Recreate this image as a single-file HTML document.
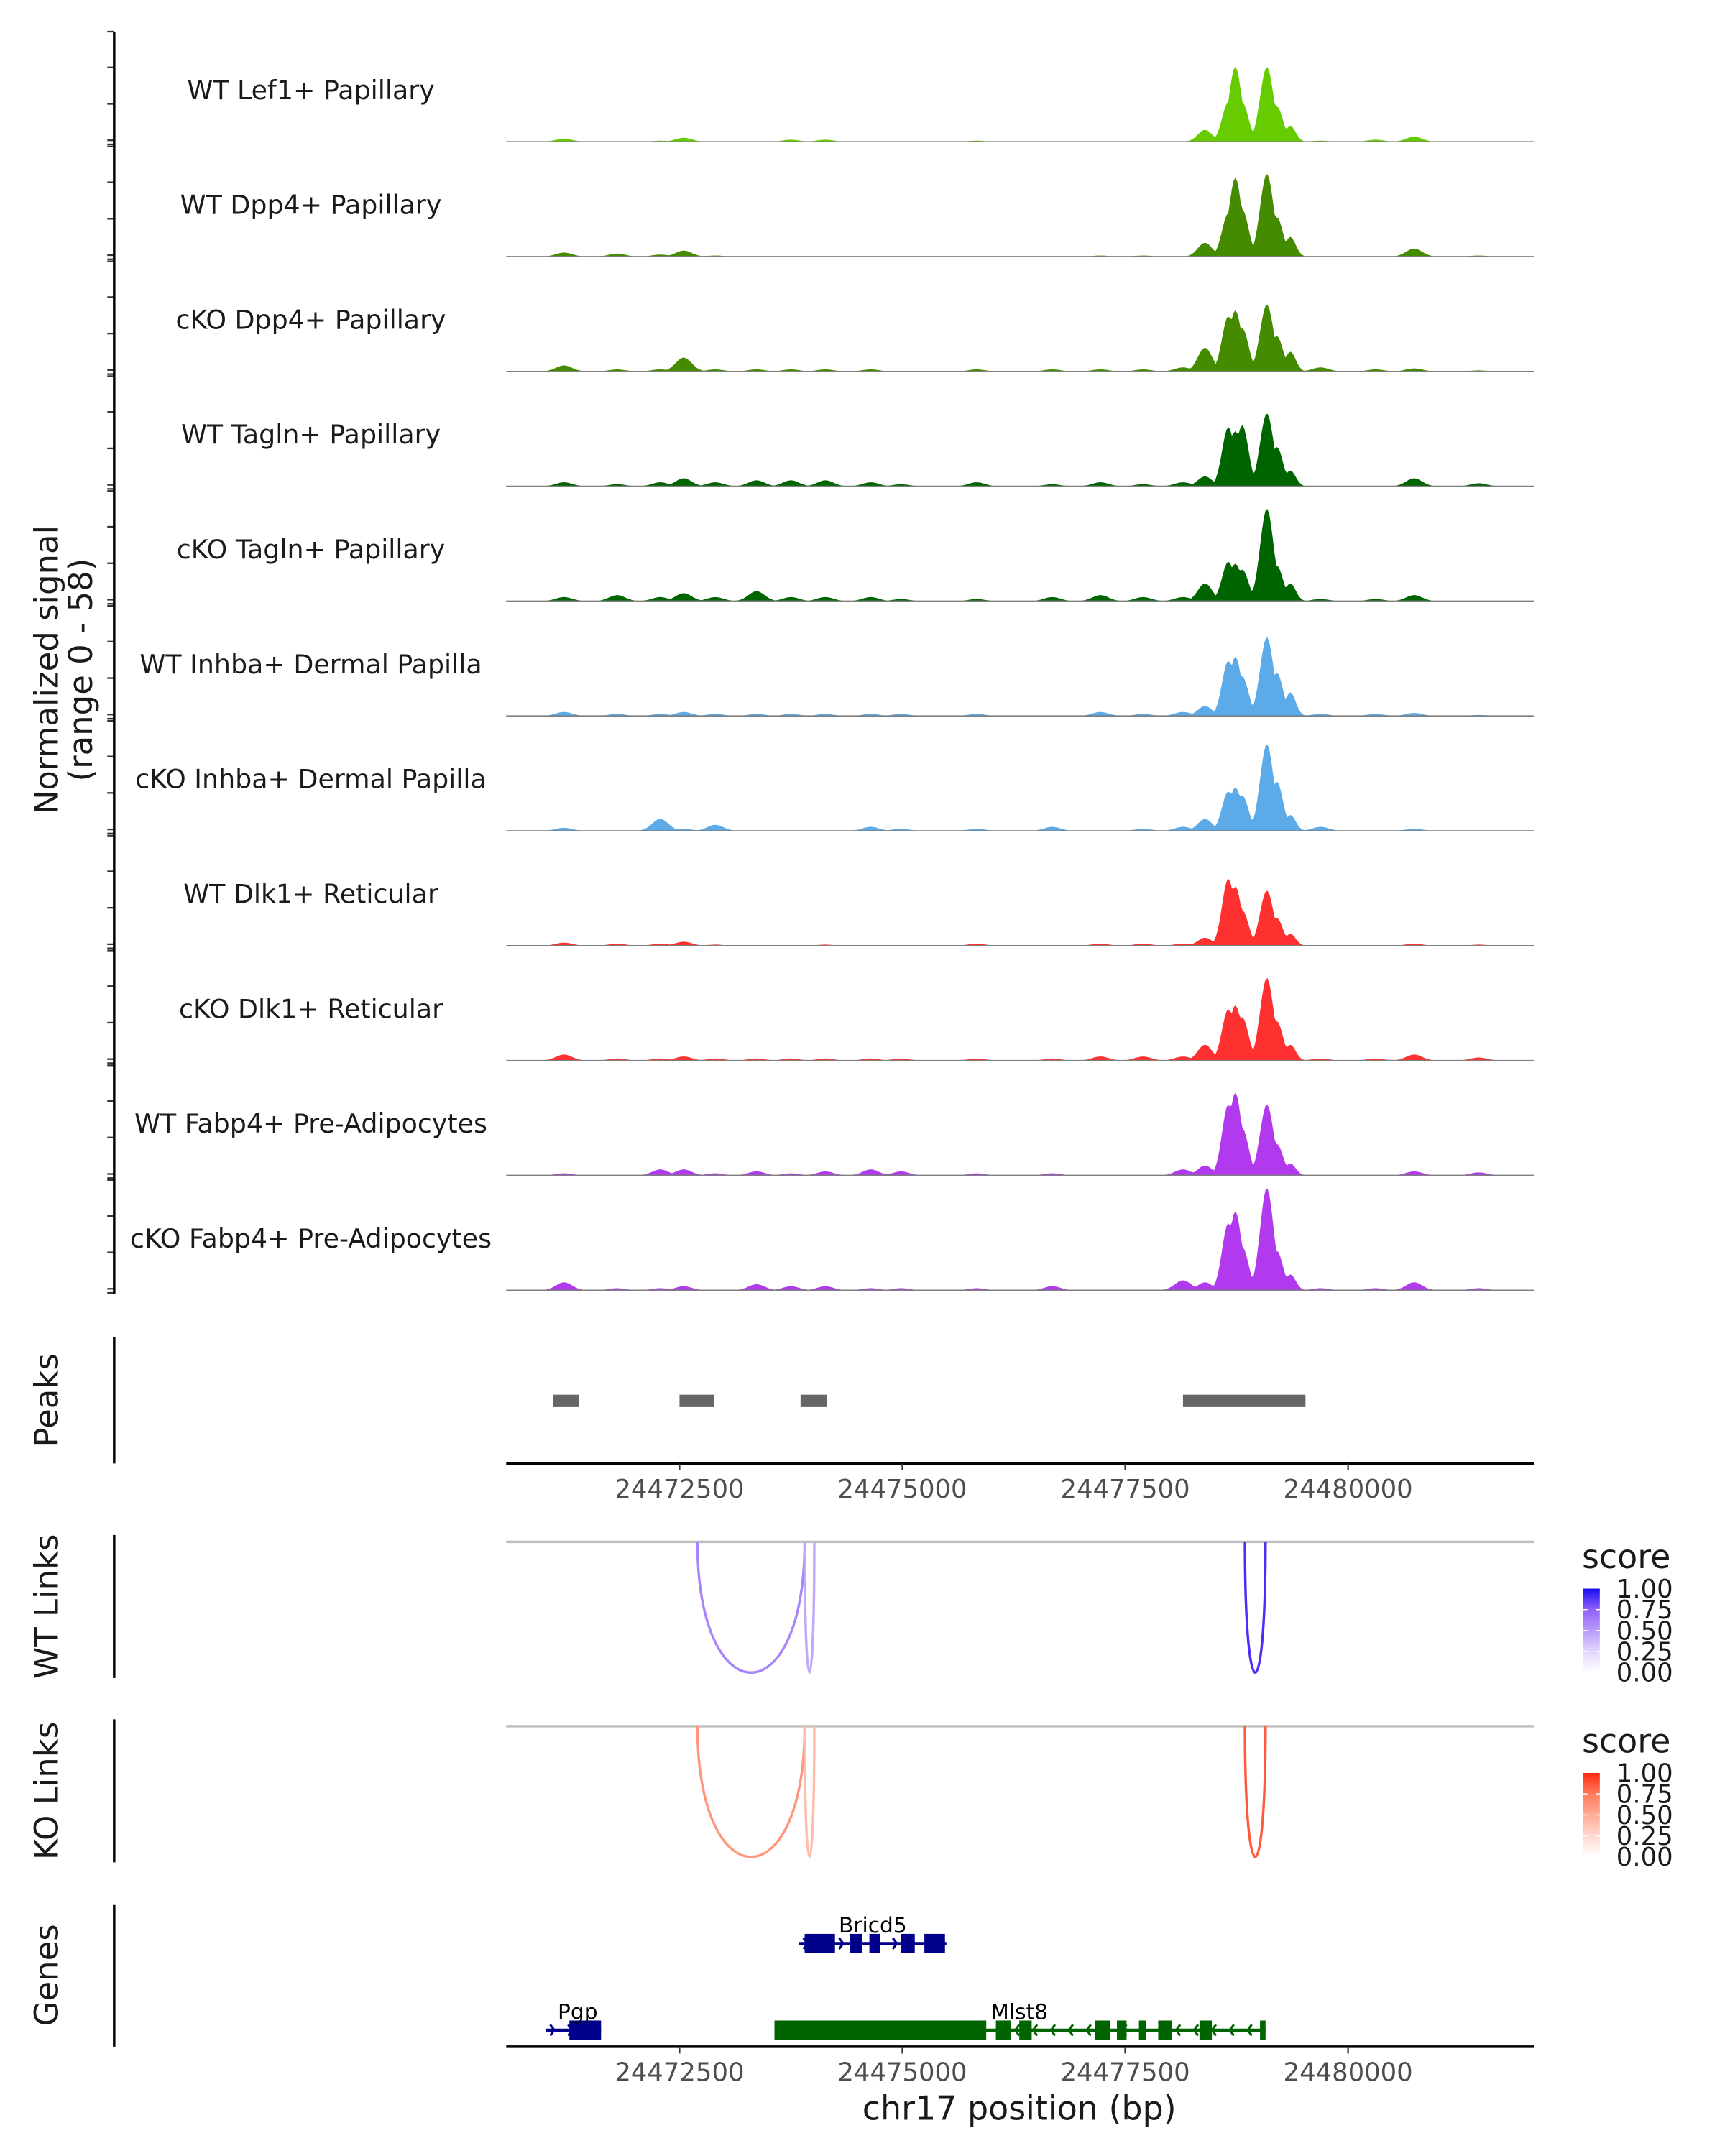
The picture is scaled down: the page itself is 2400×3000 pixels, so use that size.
<!DOCTYPE html>
<html><head><meta charset="utf-8">
<style>
html,body{margin:0;padding:0;background:#fff;}
svg{display:block;font-family:"DejaVu Sans","Liberation Sans",sans-serif;}
</style></head>
<body>
<svg id="chart" xmlns="http://www.w3.org/2000/svg" width="2400" height="3000" viewBox="0 0 1254 1567.5">
<rect x="0" y="0" width="1254" height="1567.5" fill="#fff"/>
<g id="tracks"></g>
<g id="leftaxes"></g>
<g id="peaks"></g>
<g id="links"></g>
<g id="genes"></g>
<g id="xaxes"></g>
<defs>
<linearGradient id="gBlue" x1="0" y1="1" x2="0" y2="0"><stop offset="0" stop-color="#ffffff"/><stop offset="0.25" stop-color="#e2d6fd"/><stop offset="0.5" stop-color="#b99cfb"/><stop offset="0.75" stop-color="#8f63f8"/><stop offset="1" stop-color="#1a0af5"/></linearGradient>
<linearGradient id="gRed" x1="0" y1="1" x2="0" y2="0"><stop offset="0" stop-color="#ffffff"/><stop offset="0.25" stop-color="#ffd9cf"/><stop offset="0.5" stop-color="#ffab95"/><stop offset="0.75" stop-color="#ff7a5c"/><stop offset="1" stop-color="#ff2a10"/></linearGradient>
</defs>
<text x="42" y="487" transform="rotate(-90 42 487)" text-anchor="middle" font-size="23.5" fill="#1a1a1a">Normalized signal</text>
<text x="67" y="487" transform="rotate(-90 67 487)" text-anchor="middle" font-size="23.5" fill="#1a1a1a">(range 0 - 58)</text>
<text x="741" y="1541" text-anchor="middle" font-size="24" fill="#1a1a1a">chr17 position (bp)</text>
</svg>
<script>
const trackNames = ["WT Lef1+ Papillary","WT Dpp4+ Papillary","cKO Dpp4+ Papillary","WT Tagln+ Papillary","cKO Tagln+ Papillary","WT Inhba+ Dermal Papilla","cKO Inhba+ Dermal Papilla","WT Dlk1+ Reticular","cKO Dlk1+ Reticular","WT Fabp4+ Pre-Adipocytes","cKO Fabp4+ Pre-Adipocytes"];
const trackColors = ["#66cc00","#458b00","#458b00","#006400","#006400","#5caae8","#5caae8","#ff3030","#ff3030","#b23aee","#b23aee"];
const signalCenters = [24471204,24471800,24472284,24472546,24472901,24473364,24473750,24474136,24474645,24474985,24475833,24476682,24477222,24477700,24478148,24478395,24478657,24478735,24478812,24479089,24479200,24479352,24479691,24480309,24480741,24481466];
const signalWidths = [90,90,90,90,90,90,90,90,90,90,90,90,90,90,90,80,70,70,70,75,70,60,90,90,90,90];
const lef1WT = [1.5,0,0.5,2,0,0,1,1,0,0,0.5,0,0,0,0,6,20,38,20,38,18,8,0.5,1,2.5,0];
const dpp4WT = [2,1.5,1,3,0.5,0,0,0,0,0,0,0,0.5,0.5,0,7,22,40,24,42,20,10,0,0,4,0.5];
const dpp4KO = [3,1,1,7,1,1,1,1,1,0,1,1,1,1,2,12,28,31,22,34,18,10,2,1,1.5,0.5];
const taglnWT = [2,1,2,4,2,3,3,3,2,1,2,1,2,1,2,5,30,28,31,37,20,8,0,0,4,1.5];
const taglnKO = [2,3,2,4,2,5,2,2,2,1,1,2,3,2,2,9,20,19,16,47,18,9,1,1,3,0];
const inhbaWT = [2,1,1,2,1,1,1,1,1,1,1,0,2,1,2,5,28,30,20,40,22,12,1,1,1.5,0.5];
const inhbaKO = [1.5,0,6,1,3,0,0,0,2,1,1,2,0,1,2,6,20,22,18,44,25,8,2,0,1,0];
const dlk1WT = [1.5,1,1,2,0.5,0,0,0.5,0,0,1,0,1,1,1,4,34,30,18,28,14,6,0,0,1,0.5];
const dlk1KO = [3,1,1,2,1,1,1,1,1,1,1,1,2,2,2,8,26,28,22,42,20,8,1,1,3,1.5];
const fabp4WT = [1,0,3,3,1,2,1,2,3,2,1,1,0,0,3,5,36,42,24,36,16,6,0,0,2,1.5];
const fabp4KO = [4,1,1,2,0,3,2,2,1,1,1,2,0,0,5,4,34,40,22,52,20,8,1,1,4,1];
const trackValues = [lef1WT,dpp4WT,dpp4KO,taglnWT,taglnKO,inhbaWT,inhbaKO,dlk1WT,dlk1KO,fabp4WT,fabp4KO];
const xTicks = [24472500,24475000,24477500,24480000];
const xTickLabels = ["24472500","24475000","24477500","24480000"];
const peakStarts = [24471080,24472500,24473858,24478148];
const peakEnds = [24471374,24472886,24474151,24479522];
const linkStarts = [24472701,24473904,24478843];
const linkEnds = [24473904,24474012,24479074];
const wtLinkScores = [0.6,0.45,0.9];
const koLinkScores = [0.6,0.4,0.85];
const legendTicks = [0,0.25,0.5,0.75,1];
const legendTickLabels = ["0.00","0.25","0.50","0.75","1.00"];
const geneNames = ["Bricd5","Pgp","Mlst8"];
const geneStarts = [24473843,24471003,24473565];
const geneEnds = [24475494,24471620,24479074];
const geneStrands = [1,1,-1];
const bricd5ExonStarts = [24473904,24474414,24474630,24474985,24475247];
const bricd5ExonEnds = [24474244,24474552,24474753,24475139,24475478];
const pgpExonStarts = [24471265];
const pgpExonEnds = [24471620];
const mlst8ExonStarts = [24473565,24476049,24476312,24477160,24477407,24477654,24477870,24478333,24479012];
const mlst8ExonEnds = [24475941,24476219,24476451,24477330,24477515,24477731,24478025,24478472,24479074];
const geneExonStarts = [bricd5ExonStarts,pgpExonStarts,mlst8ExonStarts];
const geneExonEnds = [bricd5ExonEnds,pgpExonEnds,mlst8ExonEnds];

const NS="http://www.w3.org/2000/svg";
const X0=368, X1=1115, BP0=24470556, BP1=24482083;
function xs(bp){return X0+(bp-BP0)*(X1-X0)/(BP1-BP0);}
const RANGE=58, TRACKH=83;
function ys(base,v){return base - v*TRACKH/RANGE;}
function mk(tag,attrs,parent){const e=document.createElementNS(NS,tag);for(const k in attrs)e.setAttribute(k,attrs[k]);parent.appendChild(e);return e;}

const tracksG=document.getElementById('tracks');
const leftG=document.getElementById('leftaxes');
const baselines=[];
for(let i=0;i<11;i++) baselines.push(103+i*83.5);

trackValues.forEach(function(vals,i){
  const base=baselines[i];
  let d="M"+X0+","+base;
  for(let bp=BP0;bp<=BP1;bp+=20){
    let v=0;
    for(let j=0;j<signalCenters.length;j++){
      const z=(bp-signalCenters[j])/signalWidths[j];
      const g=vals[j]*Math.exp(-0.5*z*z);
      if(g>v)v=g;
    }
    if(v<0.15)v=0;
    d+=" L"+xs(bp).toFixed(2)+","+ys(base,v).toFixed(2);
  }
  d+=" L"+X1+","+base+" Z";
  const area=mk('path',{d:d,fill:trackColors[i]},tracksG);
  
  
  const bl=mk('line',{x1:X0,x2:X1,y1:base,y2:base,stroke:'#7f7f7f','stroke-width':0.8},tracksG);
  
  
  const lab=mk('text',{x:226,y:base-31,'text-anchor':'middle','font-size':19,fill:'#1a1a1a'},tracksG);
  lab.textContent=trackNames[i];
  
  
  [2,-1,-27.5,-54,-80].forEach(function(off){
    const t=mk('line',{x1:78,x2:83,y1:base+off,y2:base+off,stroke:'#333','stroke-width':1.2},leftG);
    
    
  });
});
function vline(y1,y2,name){const l=mk('line',{x1:83,x2:83,y1:y1,y2:y2,stroke:'#000','stroke-width':1.8},leftG);}
vline(23,941,'signal-y-axis');
vline(972,1064,'peaks-y-axis');
vline(1116,1220,'wt-links-y-axis');
vline(1250,1354,'ko-links-y-axis');
vline(1385,1488,'genes-y-axis');
function sideLabel(txt,y,name){const t=mk('text',{x:42,y:y,transform:'rotate(-90 42 '+y+')','text-anchor':'middle','font-size':23.5,fill:'#1a1a1a'},leftG);t.textContent=txt;}
sideLabel('Peaks',1018,'peaks-label');
sideLabel('WT Links',1168,'wt-links-label');
sideLabel('KO Links',1302,'ko-links-label');
sideLabel('Genes',1436,'genes-label');

const peaksG=document.getElementById('peaks');
peakStarts.forEach(function(s,i){
  const r=mk('rect',{x:xs(s),y:1014,width:xs(peakEnds[i])-xs(s),height:9,fill:'#666666'},peaksG);
  
  
});

const xG=document.getElementById('xaxes');
function xaxis(y,name){
  const l=mk('line',{x1:X0,x2:X1,y1:y,y2:y,stroke:'#000','stroke-width':1.8},xG);
  
  
  xTicks.forEach(function(t,i){
    const tk=mk('line',{x1:xs(t),x2:xs(t),y1:y,y2:y+5,stroke:'#333','stroke-width':1.2},xG);
    
    
    const tl=mk('text',{x:xs(t),y:y+25,'text-anchor':'middle','font-size':18.5,fill:'#4d4d4d'},xG);
    tl.textContent=xTickLabels[i];
    
    
  });
}
xaxis(1064,'peaks-x-axis');
xaxis(1488,'genes-x-axis');

const linksG=document.getElementById('links');
const blueStops=[[255,255,255],[226,214,253],[185,156,251],[143,99,248],[26,10,245]];
const redStops=[[255,255,255],[255,217,207],[255,171,149],[255,122,92],[255,42,16]];
function scaleColor(stops,s){
  const p=Math.max(0,Math.min(1,s))*4, k=Math.min(3,Math.floor(p)), f=p-k;
  const a=stops[k], b=stops[k+1];
  return 'rgb('+Math.round(a[0]+(b[0]-a[0])*f)+','+Math.round(a[1]+(b[1]-a[1])*f)+','+Math.round(a[2]+(b[2]-a[2])*f)+')';
}
function linkPanel(top,scores,stops,grad,name){
  const g=mk('line',{x1:X0,x2:X1,y1:top,y2:top,stroke:'#bebebe','stroke-width':1.8},linksG);
  
  
  const depth=95;
  linkStarts.forEach(function(s,i){
    const a=xs(s),b=xs(linkEnds[i]);
    const p=mk('path',{d:'M'+a+','+top+' C'+a+','+(top+depth*4/3)+' '+b+','+(top+depth*4/3)+' '+b+','+top,fill:'none',stroke:scaleColor(stops,scores[i]),'stroke-width':1.8},linksG);
    
    
  });
  const lt=mk('text',{x:1150,y:top+19,'font-size':24,fill:'#1a1a1a'},linksG);
  lt.textContent='score';
  
  
  const by0=top+34, bh=61;
  const bar=mk('rect',{x:1151,y:by0,width:12,height:bh,fill:'url(#'+grad+')'},linksG);
  
  
  legendTicks.forEach(function(t,i){
    const yy=by0+bh-t*bh;
    const tl=mk('text',{x:1175,y:yy+6.5,'font-size':18.5,fill:'#1a1a1a'},linksG);
    tl.textContent=legendTickLabels[i];
    
    
    if(t>0&&t<1){
      const a=mk('line',{x1:1151,x2:1154,y1:yy,y2:yy,stroke:'#fff','stroke-width':0.8},linksG);
      
      
      const b=mk('line',{x1:1160,x2:1163,y1:yy,y2:yy,stroke:'#fff','stroke-width':0.8},linksG);
      
      
    }
  });
}
linkPanel(1121,wtLinkScores,blueStops,'gBlue','wt-links');
linkPanel(1255,koLinkScores,redStops,'gRed','ko-links');

const genesG=document.getElementById('genes');
const geneRows=[1413,1476,1476];
const geneColors=['#00008b','#00008b','#006400'];
geneNames.forEach(function(n,i){
  const y=geneRows[i], c=geneColors[i];
  const a=xs(geneStarts[i]), b=xs(geneEnds[i]);
  const l=mk('line',{x1:a,x2:b,y1:y,y2:y,stroke:c,'stroke-width':2.2},genesG);
  
  
  for(let px=a+6;px<b-3;px+=13){
    const dir=geneStrands[i];
    const ar=mk('polyline',{points:(px-3*dir)+','+(y-4)+' '+px+','+y+' '+(px-3*dir)+','+(y+4),fill:'none',stroke:c,'stroke-width':1.6},genesG);
    
    
  }
  geneExonStarts[i].forEach(function(s,k){
    const r=mk('rect',{x:xs(s),y:y-7,width:xs(geneExonEnds[i][k])-xs(s),height:14,fill:c},genesG);
    
    
  });
  const lx = n==='Pgp'?420:(n==='Mlst8'?741:(a+b)/2);
  const t=mk('text',{x:lx,y:y-8,'text-anchor':'middle','font-size':15.5,fill:'#000'},genesG);
  t.textContent=n;
  
  
});
</script>
</body></html>
